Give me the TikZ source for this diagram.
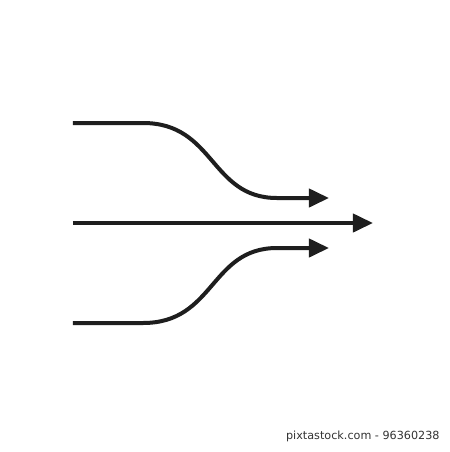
\documentclass[tikz,border=0pt]{standalone}
\usepackage{fontspec}
\setsansfont{DejaVu Sans}
\usetikzlibrary{arrows.meta}
\definecolor{ink}{HTML}{1E1E1E}
\definecolor{marktext}{HTML}{333333}
\tikzset{
    flow/.style={ink, line width=2pt, -{Triangle[length=10pt,width=9pt]}},
    credit/.style={marktext, font=\sffamily\fontsize{5.6pt}{6pt}\selectfont, anchor=east, inner sep=0pt}
}
\begin{document}
\begin{tikzpicture}[x=0.5pt, y=-0.5pt]
            \useasboundingbox[fill=white] (0, 0) rectangle (450, 452);

            % starting points
            \coordinate (topstart) at (73, 123);
            \coordinate (midstart) at (73, 223);
            \coordinate (botstart) at (73, 323);

            % ends of the arrows
            \coordinate (topend) at (329, 198);
            \coordinate (midend) at (373, 223);
            \coordinate (botend) at (329, 248);

            \draw[flow] (topstart) -- (143, 123)
                .. controls (215, 123) and (210, 198) .. (277, 198) -- (topend);
            \draw[flow] (midstart) -- (midend);
            \draw[flow] (botstart) -- (143, 323)
                .. controls (215, 323) and (210, 248) .. (277, 248) -- (botend);

            \node[credit] (credit) at (440, 436) {pixtastock.com - 96360238};
        \end{tikzpicture}
\end{document}
